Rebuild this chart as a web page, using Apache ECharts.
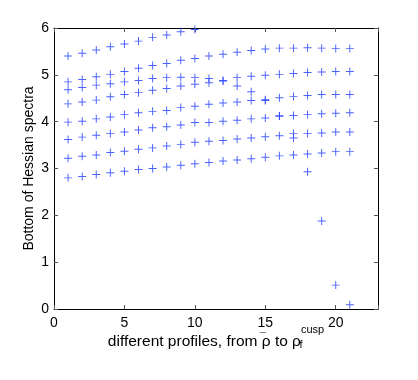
<!DOCTYPE html>
<html>
<head>
<meta charset="utf-8">
<script src="https://cdn.jsdelivr.net/npm/echarts@6/dist/echarts.min.js"></script>
<style>
  html, body { margin: 0; padding: 0; background: #fff; }
  #chart { width: 418px; height: 380px; }
</style>
</head>
<body>
<div id="chart"></div>
<script>
// profile index along the x axis
const profiles = [1, 2, 3, 4, 5, 6, 7, 8, 9, 10, 11, 12, 13, 14, 15, 16, 17, 18, 19, 20, 21]
const xTicks = [0, 5, 10, 15, 20]
const yTicks = [0, 1, 2, 3, 4, 5, 6]

// lowest eigenvalues per profile, one array per branch (null = not shown)
const branch1 = [5.40, 5.46, 5.53, 5.60, 5.66, 5.72, 5.80, 5.85, 5.92, 5.97, null, null, null, null, null, null, null, null, null, null, null]
const branch2 = [4.85, 4.90, 4.96, 5.01, 5.07, 5.14, 5.20, 5.24, 5.31, 5.35, 5.40, 5.44, 5.48, 5.52, 5.55, 5.57, 5.57, 5.58, 5.57, 5.56, 5.56]
const branch3 = [4.68, 4.73, 4.78, 4.81, 4.85, 4.88, 4.92, 4.94, 4.95, 4.94, 4.92, 4.88, 4.94, 4.97, 4.99, 5.01, 5.03, 5.05, 5.06, 5.07, 5.07]
const branch4 = [4.38, 4.42, 4.46, 4.53, 4.58, 4.62, 4.67, 4.71, 4.76, 4.80, 4.83, 4.87, 4.76, 4.64, 4.45, 4.12, 3.65, 2.93, 1.88, 0.51, 0.09]
const branch5 = [3.99, 4.01, 4.06, 4.10, 4.15, 4.19, 4.22, 4.24, 4.30, 4.33, 4.37, 4.40, 4.42, 4.45, 4.47, 4.51, 4.54, 4.56, 4.58, 4.58, 4.58]
const branch6 = [3.62, 3.67, 3.71, 3.75, 3.78, 3.82, 3.87, 3.89, 3.93, 3.98, 3.98, 4.01, 4.03, 4.06, 4.08, 4.12, 4.13, 4.15, 4.17, 4.18, 4.19]
const branch7 = [3.22, 3.26, 3.29, 3.34, 3.37, 3.41, 3.44, 3.48, 3.51, 3.56, 3.58, 3.60, 3.63, 3.65, 3.68, 3.70, 3.75, 3.75, 3.76, 3.78, 3.78]
const branch8 = [2.80, 2.83, 2.87, 2.91, 2.94, 2.98, 3.00, 3.03, 3.07, 3.10, 3.13, 3.16, 3.18, 3.21, 3.24, 3.27, 3.29, 3.31, 3.33, 3.36, 3.36]

const branches = [branch1, branch2, branch3, branch4, branch5, branch6, branch7, branch8]

const FONT = 'Liberation Sans'
const BLUE = '#2a45ff'
// thin "+" marker
const PLUS = 'path://M4.4,0h1.2v4.4h4.4v1.2h-4.4v4.4h-1.2v-4.4h-4.4v-1.2h4.4z'

let chart = echarts.init(document.getElementById('chart'), null, { renderer: 'canvas' })

function axisBase(min, max, interval, ticks) {
  return {
    type: 'value',
    min: min,
    max: max,
    interval: interval,
    splitLine: { show: false },
    axisLine: { show: true, onZero: false, lineStyle: { color: '#000', width: 1 } },
    axisTick: { show: true, inside: true, length: 4, lineStyle: { color: '#555' } },
    axisLabel: {
      show: true,
      color: '#000',
      fontFamily: FONT,
      fontSize: 14,
      formatter: v => (ticks.indexOf(v) >= 0 ? String(v) : '')
    }
  }
}

let xBottom = axisBase(0, 23, 5, xTicks)
xBottom.position = 'bottom'
xBottom.axisLabel.margin = 7
// rho with a bar: the bar token has zero width so it sits over the rho;
// sub/superscripts are lifted/lowered with padding
xBottom.name = '{m|different profiles, from }{bar|\u2009¯}{m|ρ to ρ}{s|f}{p|cusp}'
xBottom.nameLocation = 'middle'
xBottom.nameGap = 11
xBottom.nameMoveOverlap = false
xBottom.nameTextStyle = {
  color: '#000',
  fontFamily: FONT,
  rich: {
    m: { fontFamily: FONT, fontSize: 15.5, color: '#000', lineHeight: 44 },
    bar: { fontFamily: FONT, fontSize: 11, color: '#000', width: 0, padding: [0, 0, 8, 0] },
    s: { fontFamily: FONT, fontSize: 11, color: '#000', width: 0, padding: [5, 0, 0, 0] },
    p: { fontFamily: FONT, fontSize: 11, color: '#000', padding: [0, 0, 24, 0] }
  }
}

let xTop = axisBase(0, 23, 5, xTicks)
xTop.position = 'top'
xTop.axisLabel.show = false

let yLeft = axisBase(0, 6, 1, yTicks)
yLeft.position = 'left'
yLeft.axisLabel.margin = 5
yLeft.name = 'Bottom of Hessian spectra'
yLeft.nameLocation = 'middle'
yLeft.nameGap = 18
yLeft.nameMoveOverlap = false
yLeft.nameTextStyle = { color: '#000', fontFamily: FONT, fontSize: 14 }

let yRight = axisBase(0, 6, 1, yTicks)
yRight.position = 'right'
yRight.axisLabel.show = false

let series = branches.map((vals, i) => ({
  name: 'branch' + (i + 1),
  type: 'scatter',
  xAxisIndex: 0,
  yAxisIndex: 0,
  symbol: PLUS,
  symbolSize: 8,
  itemStyle: { color: BLUE, opacity: 0.85 },
  data: profiles.map((x, k) => [x, vals[k]]).filter(p => p[1] !== null)
}))

chart.setOption({
  backgroundColor: '#fff',
  animation: false,
  grid: { left: 54, right: 40, top: 28, bottom: 71 },
  xAxis: [xBottom, xTop],
  yAxis: [yLeft, yRight],
  series: series
})
</script>
</body>
</html>
